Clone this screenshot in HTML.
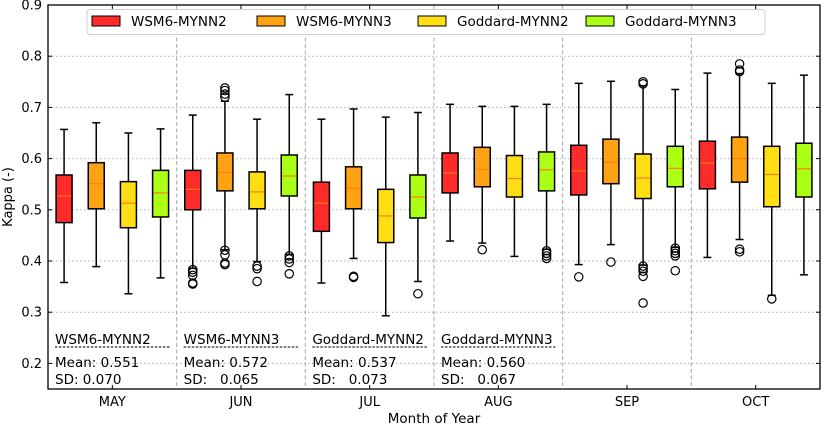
<!DOCTYPE html>
<html><head><meta charset="utf-8"><style>
body{margin:0;background:#fff}
svg{font-family:"DejaVu Sans","Liberation Sans",sans-serif}
svg text{white-space:pre}
</style></head><body>
<svg id="c" width="824" height="425" xmlns="http://www.w3.org/2000/svg"></svg>
<script>
const months=["MAY","JUN","JUL","AUG","SEP","OCT"];
const seriesNames=["WSM6-MYNN2","WSM6-MYNN3","Goddard-MYNN2","Goddard-MYNN3"];
const colors=["#ff2a2a","#ffa214","#ffde14","#aaff14"];
// [whiskerLow, q1, median, q3, whiskerHigh] per month per series
const stats=[
 [[0.358,0.475,0.527,0.568,0.657],[0.389,0.502,0.551,0.592,0.670],[0.336,0.465,0.513,0.555,0.650],[0.367,0.486,0.533,0.577,0.658]],
 [[0.386,0.500,0.540,0.577,0.685],[0.422,0.537,0.573,0.611,0.712],[0.399,0.502,0.535,0.574,0.677],[0.413,0.527,0.566,0.607,0.725]],
 [[0.357,0.458,0.513,0.554,0.677],[0.405,0.502,0.542,0.584,0.697],[0.293,0.436,0.488,0.540,0.681],[0.360,0.484,0.525,0.568,0.690]],
 [[0.439,0.533,0.572,0.611,0.706],[0.435,0.545,0.579,0.622,0.702],[0.409,0.525,0.561,0.606,0.702],[0.423,0.537,0.578,0.613,0.706]],
 [[0.393,0.529,0.576,0.626,0.747],[0.432,0.551,0.593,0.638,0.751],[0.392,0.522,0.562,0.609,0.742],[0.427,0.545,0.581,0.624,0.735]],
 [[0.407,0.541,0.591,0.634,0.767],[0.442,0.554,0.600,0.642,0.766],[0.333,0.506,0.569,0.624,0.747],[0.373,0.525,0.580,0.630,0.763]]
];
const outliers=[
 [[],[],[],[]],
 [[0.383,0.378,0.372,0.357,0.355],[0.738,0.733,0.726,0.720,0.421,0.412,0.396,0.393],[0.390,0.385,0.360],[0.410,0.404,0.397,0.375]],
 [[],[0.370,0.368],[],[0.336]],
 [[],[0.422],[],[0.420,0.415,0.410,0.405]],
 [[0.369],[0.398],[0.750,0.746,0.390,0.385,0.380,0.370,0.318],[0.425,0.420,0.415,0.410,0.381]],
 [[],[0.785,0.773,0.770,0.423,0.418],[0.326],[]]
];
const yTicks=[0.2,0.3,0.4,0.5,0.6,0.7,0.8,0.9];
const statNames=["WSM6-MYNN2","WSM6-MYNN3","Goddard-MYNN2","Goddard-MYNN3"];
const means=["0.551","0.572","0.537","0.560"];
const sds=["0.070","0.065","0.073","0.067"];

const L=48,R=820,T=5,B=389,ymin=0.15,ymax=0.9;
const gw=(R-L)/months.length;
const y=v=>B-(v-ymin)/(ymax-ymin)*(B-T);
const xc=(m,s)=>L+m*gw+gw*(s+0.5)/4;
const svg=document.getElementById('c');
const NS="http://www.w3.org/2000/svg";
function mk(tag,a,p){const e=document.createElementNS(NS,tag);for(const k in a)e.setAttribute(k,a[k]);(p||svg).appendChild(e);return e;}

yTicks.forEach(t=>{
 const g=mk('line',{x1:L,x2:R,y1:y(t),y2:y(t),stroke:'#b0b0b0','stroke-dasharray':'1.5,2.5','stroke-width':1});
 
 
 const tk=mk('line',{x1:L,x2:L+4,y1:y(t),y2:y(t),stroke:'#000'});
 
 
 const tk2=mk('line',{x1:R-4,x2:R,y1:y(t),y2:y(t),stroke:'#000'});
 
 
 const tx=mk('text',{x:L-6,y:y(t)+4.5,'text-anchor':'end','font-size':13});
 tx.textContent=t.toFixed(1);
 
 
});
for(let m=1;m<months.length;m++){
 const d=mk('line',{x1:L+m*gw,x2:L+m*gw,y1:T,y2:B,stroke:'#a8a8a8','stroke-dasharray':'4,2.5'});
 
 
}
months.forEach((mo,m)=>{
 const cx=L+(m+0.5)*gw;
 const t1=mk('line',{x1:cx,x2:cx,y1:B,y2:B-4,stroke:'#000'});
 
 
 const t2=mk('line',{x1:cx,x2:cx,y1:T,y2:T+4,stroke:'#000'});
 
 
 const tx=mk('text',{x:cx,y:406,'text-anchor':'middle','font-size':13});
 tx.textContent=mo;
 
 
});
const bw=16;
stats.forEach((ms,m)=>ms.forEach((st,s)=>{
 const x=xc(m,s);
 const g=mk('g',{});
 
 
 mk('line',{x1:x,x2:x,y1:y(st[0]),y2:y(st[1]),stroke:'#000','stroke-width':1.5},g);
 mk('line',{x1:x,x2:x,y1:y(st[3]),y2:y(st[4]),stroke:'#000','stroke-width':1.5},g);
 mk('line',{x1:x-4,x2:x+4,y1:y(st[0]),y2:y(st[0]),stroke:'#000','stroke-width':1.5},g);
 mk('line',{x1:x-4,x2:x+4,y1:y(st[4]),y2:y(st[4]),stroke:'#000','stroke-width':1.5},g);
 mk('rect',{x:x-bw/2,y:y(st[3]),width:bw,height:y(st[1])-y(st[3]),fill:colors[s],stroke:'#000','stroke-width':1.5},g);
 mk('line',{x1:x-bw/2+1,x2:x+bw/2-1,y1:y(st[2]),y2:y(st[2]),stroke:'#ff7f0e','stroke-width':1.2},g);
 outliers[m][s].forEach(v=>{mk('circle',{cx:x,cy:y(v),r:4.2,fill:'none',stroke:'#000','stroke-width':1.2},g);});
}));
statNames.forEach((n,i)=>{
 const x0=L+i*gw+7;
 const t=mk('text',{x:x0,y:344,'font-size':13.5});
 t.textContent=n;
 
 
 const u=mk('line',{x1:x0,x2:L+(i+1)*gw-6,y1:347,y2:347,stroke:'#000','stroke-dasharray':'2.5,1.5','stroke-width':1});
 
 
 const a=mk('text',{x:x0,y:367,'font-size':13.5});
 a.textContent='Mean: '+means[i];
 
 
 const b=mk('text',{x:x0,y:384,'font-size':13.5});
 b.textContent=i==0?'SD: '+sds[i]:'SD:   '+sds[i];
 
 
});
const fr=mk('rect',{x:L,y:T,width:R-L,height:B-T,fill:'none',stroke:'#000','stroke-width':1.3});


const lg=mk('g',{});


mk('rect',{x:87,y:9.5,width:678,height:25,rx:3,fill:'rgba(255,255,255,0.85)',stroke:'#d0d0d0'},lg);
const lx=[92,257,418,586];
seriesNames.forEach((n,i)=>{
 const e=mk('g',{},lg);
 
 
 mk('rect',{x:lx[i],y:16,width:28,height:10,fill:colors[i],stroke:'#000'},e);
 const t=mk('text',{x:lx[i]+39,y:26,'font-size':13.5},e);
 t.textContent=n;
});
const yt=mk('text',{x:0,y:0,'font-size':13,'text-anchor':'middle',transform:'translate(12,197) rotate(-90)'});
yt.textContent='Kappa (-)';


const xt=mk('text',{x:434,y:423,'font-size':13.5,'text-anchor':'middle'});
xt.textContent='Month of Year';


</script>
</body></html>
